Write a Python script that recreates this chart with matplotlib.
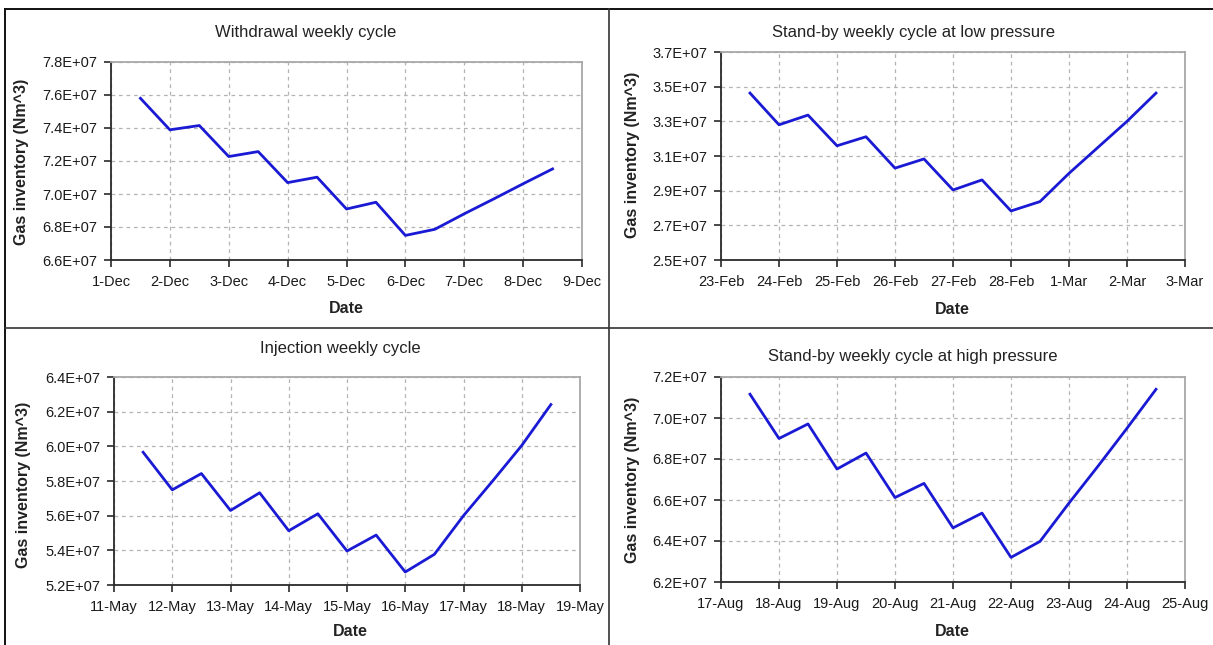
import matplotlib
matplotlib.use("Agg")
import matplotlib.pyplot as plt
import matplotlib.dates as mdates
from matplotlib.ticker import FuncFormatter, FixedLocator
import numpy as np
import pandas as pd
from matplotlib.lines import Line2D

plt.rcParams['font.family'] = ['Liberation Sans', 'DejaVu Sans']

# ---------------- data ----------------
titles = ["Withdrawal weekly cycle",
          "Stand-by weekly cycle at low pressure",
          "Injection weekly cycle",
          "Stand-by weekly cycle at high pressure"]

withdrawal_dates = ["2007-12-01 12:00", "2007-12-02 00:00", "2007-12-02 12:00", "2007-12-03 00:00",
                    "2007-12-03 12:00", "2007-12-04 00:00", "2007-12-04 12:00", "2007-12-05 00:00",
                    "2007-12-05 12:00", "2007-12-06 00:00", "2007-12-06 12:00", "2007-12-07 00:00",
                    "2007-12-07 12:00", "2007-12-08 00:00", "2007-12-08 12:00"]
withdrawal_vals = [7.58e7, 7.389e7, 7.415e7, 7.227e7, 7.257e7, 7.069e7, 7.102e7, 6.909e7,
                   6.950e7, 6.749e7, 6.786e7, 6.880e7, 6.970e7, 7.062e7, 7.152e7]

lowp_dates = ["2007-02-23 12:00", "2007-02-24 00:00", "2007-02-24 12:00", "2007-02-25 00:00",
              "2007-02-25 12:00", "2007-02-26 00:00", "2007-02-26 12:00", "2007-02-27 00:00",
              "2007-02-27 12:00", "2007-02-28 00:00", "2007-02-28 12:00", "2007-03-01 00:00",
              "2007-03-01 12:00", "2007-03-02 00:00", "2007-03-02 12:00"]
lowp_vals = [3.463e7, 3.280e7, 3.336e7, 3.159e7, 3.211e7, 3.030e7, 3.083e7, 2.904e7,
             2.962e7, 2.783e7, 2.837e7, 3.000e7, 3.150e7, 3.300e7, 3.463e7]

injection_dates = ["2007-05-11 12:00", "2007-05-12 00:00", "2007-05-12 12:00", "2007-05-13 00:00",
                   "2007-05-13 12:00", "2007-05-14 00:00", "2007-05-14 12:00", "2007-05-15 00:00",
                   "2007-05-15 12:00", "2007-05-16 00:00", "2007-05-16 12:00", "2007-05-17 00:00",
                   "2007-05-17 12:00", "2007-05-18 00:00", "2007-05-18 12:00"]
injection_vals = [5.966e7, 5.749e7, 5.843e7, 5.630e7, 5.732e7, 5.513e7, 5.611e7, 5.396e7,
                  5.488e7, 5.275e7, 5.377e7, 5.600e7, 5.800e7, 6.005e7, 6.241e7]

highp_dates = ["2007-08-17 12:00", "2007-08-18 00:00", "2007-08-18 12:00", "2007-08-19 00:00",
               "2007-08-19 12:00", "2007-08-20 00:00", "2007-08-20 12:00", "2007-08-21 00:00",
               "2007-08-21 12:00", "2007-08-22 00:00", "2007-08-22 12:00", "2007-08-23 00:00",
               "2007-08-23 12:00", "2007-08-24 00:00", "2007-08-24 12:00"]
highp_vals = [7.116e7, 6.900e7, 6.971e7, 6.751e7, 6.829e7, 6.612e7, 6.681e7, 6.464e7,
              6.536e7, 6.320e7, 6.398e7, 6.585e7, 6.765e7, 6.950e7, 7.140e7]

x_ranges = [("2007-12-01", "2007-12-09"), ("2007-02-23", "2007-03-03"),
            ("2007-05-11", "2007-05-19"), ("2007-08-17", "2007-08-25")]
y_ranges = [(6.6e7, 7.8e7), (2.5e7, 3.7e7), (5.2e7, 6.4e7), (6.2e7, 7.2e7)]
y_steps = [0.2e7, 0.2e7, 0.2e7, 0.2e7]

series = [(withdrawal_dates, withdrawal_vals), (lowp_dates, lowp_vals),
          (injection_dates, injection_vals), (highp_dates, highp_vals)]

# ---------------- layout (pixels) ----------------
W, H = 1213, 645
fig = plt.figure(figsize=(W / 100, H / 100), dpi=100)
fig.patch.set_facecolor('white')

# left, top, right, bottom in pixels
boxes = [(111, 62, 582, 260), (721, 52, 1185, 260), (114, 377, 580, 585), (721, 377, 1185, 582)]
title_pos = [(306, 33), (914, 33), (340, 349), (913, 356)]
ylabel_pos = [(22, 162), (632, 155), (24, 485), (632, 480)]
xlabel_pos = [(346, 308), (952, 310), (350, 632), (952, 632)]

line_color = '#1a1ad4'


def fmt_date(x, pos=None):
    d = mdates.num2date(x)
    return f"{d.day}-{d.strftime('%b')}"


def fmt_sci(v, pos=None):
    m = v / 1e7
    return f"{m:.1f}E+07"


for i in range(4):
    l, t, r, b = boxes[i]
    ax = fig.add_axes([l / W, 1 - b / H, (r - l) / W, (b - t) / H])
    dates = pd.to_datetime(series[i][0])
    ax.plot(dates, series[i][1], color=line_color, lw=2.0, solid_joinstyle='round')
    x0, x1 = pd.to_datetime(x_ranges[i][0]), pd.to_datetime(x_ranges[i][1])
    ax.set_xlim(x0, x1)
    ymin, ymax = y_ranges[i]
    ax.set_ylim(ymin, ymax)
    ax.xaxis.set_major_locator(mdates.DayLocator())
    ax.xaxis.set_major_formatter(FuncFormatter(fmt_date))
    ax.yaxis.set_major_locator(FixedLocator(np.arange(ymin, ymax + y_steps[i] / 2, y_steps[i])))
    ax.yaxis.set_major_formatter(FuncFormatter(fmt_sci))
    ax.grid(True, color='#b4b4b4', linestyle=(0, (3, 3)), lw=0.9)
    ax.set_axisbelow(True)
    for s in ['top', 'right']:
        ax.spines[s].set_color('#a8a8a8')
        ax.spines[s].set_linewidth(1.3)
    for s in ['left', 'bottom']:
        ax.spines[s].set_color('#2a2a2a')
        ax.spines[s].set_linewidth(1.3)
    ax.tick_params(axis='both', direction='out', length=5, width=1.2, color='#2a2a2a',
                   labelsize=10.5, labelcolor='#1a1a1a')
    ax.tick_params(axis='x', pad=6)
    ax.tick_params(axis='y', pad=5)

    fig.text(title_pos[i][0] / W, 1 - title_pos[i][1] / H, titles[i], ha='center', va='center',
             fontsize=12, color='#222222')
    fig.text(ylabel_pos[i][0] / W, 1 - ylabel_pos[i][1] / H, "Gas inventory (Nm^3)", rotation=90,
             ha='center', va='center', fontsize=11.5, fontweight='bold', color='#222222')
    fig.text(xlabel_pos[i][0] / W, 1 - xlabel_pos[i][1] / H, "Date", ha='center', va='center',
             fontsize=11.5, fontweight='bold', color='#222222')

# panel dividers / outer border
fig.add_artist(Line2D([5 / W, 1], [1 - 9 / H, 1 - 9 / H], transform=fig.transFigure, color='#111111', lw=1.4))
fig.add_artist(Line2D([5 / W, 5 / W], [0, 1 - 9 / H], transform=fig.transFigure, color='#111111', lw=1.4))
fig.add_artist(Line2D([609 / W, 609 / W], [0, 1 - 9 / H], transform=fig.transFigure, color='#333333', lw=1.2))
fig.add_artist(Line2D([5 / W, 1], [1 - 328 / H, 1 - 328 / H], transform=fig.transFigure, color='#333333', lw=1.2))

fig.savefig("out.png", dpi=100)
